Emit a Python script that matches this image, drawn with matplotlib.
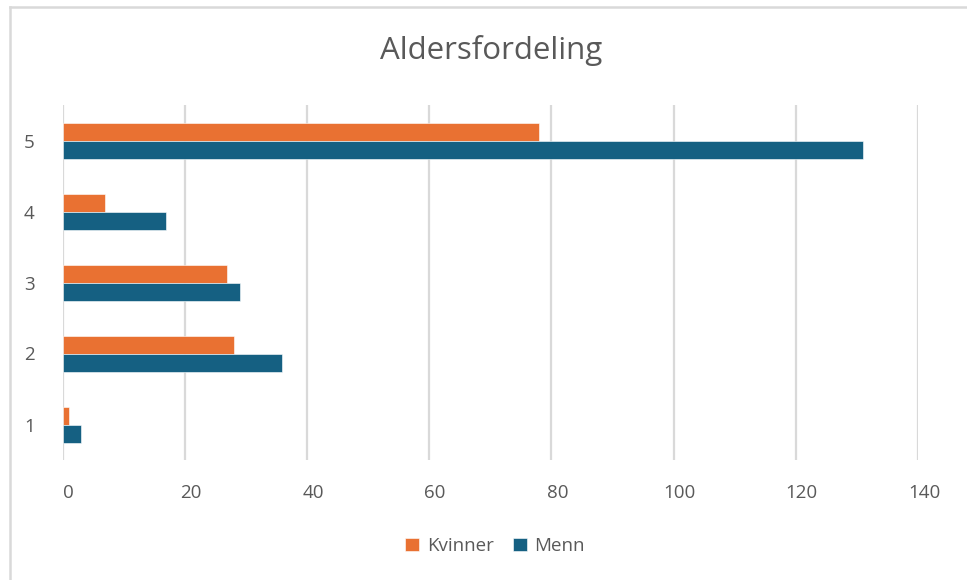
import numpy as np
import matplotlib
matplotlib.use("Agg")
import matplotlib.pyplot as plt
from matplotlib.lines import Line2D
from matplotlib.transforms import ScaledTranslation

###
# Data
###
categories = ["1", "2", "3", "4", "5"]
kvinner = [1, 28, 27, 7, 78]
menn = [3, 36, 29, 17, 131]
x_ticks = [0, 20, 40, 60, 80, 100, 120, 140]

ORANGE = "#E97132"
BLUE = "#156082"
GRID = "#d9d9d9"
TXT = "#595959"

plt.rcParams['font.family'] = ['Open Sans', 'DejaVu Sans']

fig = plt.figure(figsize=(9.67, 5.8), dpi=100)
ax = fig.add_axes([62.5 / 967, 1 - 460 / 580, (918 - 62.5) / 967, (460 - 105) / 580])

y = np.arange(1, len(categories) + 1)
bh = 0.25

# bars - kvinner above, menn below
ax.barh(y + 0.125, kvinner, height=bh, color=ORANGE, edgecolor="white", linewidth=0.4, label="Kvinner", zorder=3)
ax.barh(y - 0.13, menn, height=bh, color=BLUE, edgecolor="white", linewidth=0.4, label="Menn", zorder=3)

ax.set_xlim(0, 140)
ax.set_ylim(0.5, 5.5)
ax.set_xticks(x_ticks)
ax.set_yticks(y)
ax.set_yticklabels(categories)

# excel style grid
ax.grid(axis="x", color=GRID, linewidth=1.6, zorder=0)
for s in ax.spines.values():
    s.set_visible(False)
ax.tick_params(axis="both", length=0, labelsize=13.5, labelcolor=TXT)
ax.tick_params(axis="x", pad=17)
ax.tick_params(axis="y", pad=20)

# excel puts the x labels a bit to the right of the gridlines
shift = ScaledTranslation(6 / 100, 0, fig.dpi_scale_trans)
for lbl in ax.get_xticklabels():
    lbl.set_transform(lbl.get_transform() + shift)

fig.text(491 / 967, 1 - 50 / 580, "Aldersfordeling", ha="center", va="center",
         fontsize=22.5, color=TXT)

leg = fig.legend(loc="center", bbox_to_anchor=(495 / 967, 1 - 546 / 580), ncol=2,
                 frameon=False, fontsize=13.5, handlelength=0.75, handleheight=0.75,
                 handletextpad=0.4, columnspacing=1.0)
for t in leg.get_texts():
    t.set_color(TXT)

# chart frame (only left + top visible in screenshot)
fig.add_artist(Line2D([10 / 967, 10 / 967], [0, 1 - 7 / 580], transform=fig.transFigure, color=GRID, linewidth=1.8))
fig.add_artist(Line2D([10 / 967, 1], [1 - 7 / 580, 1 - 7 / 580], transform=fig.transFigure, color=GRID, linewidth=1.8))

plt.savefig("out.png", dpi=100)
